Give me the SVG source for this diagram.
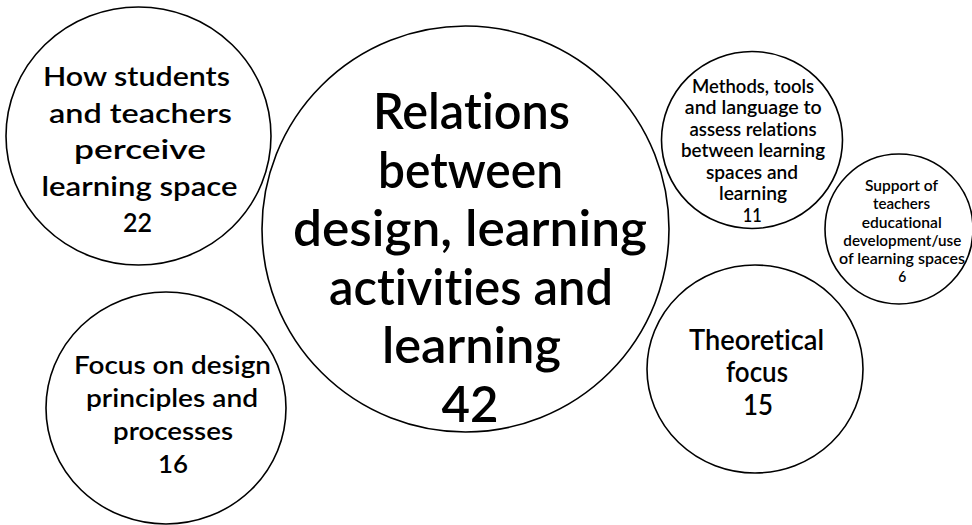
<svg xmlns="http://www.w3.org/2000/svg" width="972" height="525" viewBox="0 0 972 525">
<style>
.c{fill:#fff;stroke:#000;stroke-width:1.6}
text{font-family:Lato,"Noto Sans","DejaVu Sans",sans-serif;fill:#000;text-anchor:middle;font-weight:600;font-variant-ligatures:none}
</style>
<rect width="972" height="525" fill="#fff"/>
<g id="connectors"/>
<g id="n1">
<ellipse class="c" cx="138.5" cy="136" rx="132.5" ry="129"/>
<text font-size="26"><tspan x="136.5" y="86" textLength="187" lengthAdjust="spacingAndGlyphs">How students</tspan><tspan x="140.5" y="122.5" textLength="183" lengthAdjust="spacingAndGlyphs">and teachers</tspan><tspan x="140" y="159" textLength="132" lengthAdjust="spacingAndGlyphs">perceive</tspan><tspan x="139.5" y="195.5" textLength="196" lengthAdjust="spacingAndGlyphs">learning space</tspan><tspan x="137.5" y="232" textLength="29" lengthAdjust="spacingAndGlyphs">22</tspan></text>
</g>
<g id="n2">
<ellipse class="c" cx="465.5" cy="229" rx="203.5" ry="203"/>
<text font-size="49"><tspan x="471.5" y="129" textLength="197" lengthAdjust="spacingAndGlyphs">Relations</tspan><tspan x="470.5" y="187.5" textLength="185" lengthAdjust="spacingAndGlyphs">between</tspan><tspan x="470" y="246" textLength="354" lengthAdjust="spacingAndGlyphs">design, learning</tspan><tspan x="471" y="304.5" textLength="284" lengthAdjust="spacingAndGlyphs">activities and</tspan><tspan x="471.5" y="363" textLength="179" lengthAdjust="spacingAndGlyphs">learning</tspan><tspan x="470" y="422" textLength="57" lengthAdjust="spacingAndGlyphs">42</tspan></text>
</g>
<g id="n3">
<ellipse class="c" cx="166" cy="408" rx="120" ry="116"/>
<text font-size="25"><tspan x="172.5" y="374" textLength="197" lengthAdjust="spacingAndGlyphs">Focus on design</tspan><tspan x="172" y="407" textLength="172" lengthAdjust="spacingAndGlyphs">principles and</tspan><tspan x="173" y="440" textLength="120" lengthAdjust="spacingAndGlyphs">processes</tspan><tspan x="173" y="473" textLength="30" lengthAdjust="spacingAndGlyphs">16</tspan></text>
</g>
<g id="n4">
<ellipse class="c" cx="752" cy="140" rx="90.5" ry="88.5"/>
<text font-size="19"><tspan x="753" y="92.5" textLength="122" lengthAdjust="spacingAndGlyphs">Methods, tools</tspan><tspan x="753.3" y="114" textLength="137" lengthAdjust="spacingAndGlyphs">and language to</tspan><tspan x="753" y="135.5" textLength="127" lengthAdjust="spacingAndGlyphs">assess relations</tspan><tspan x="753" y="157" textLength="144" lengthAdjust="spacingAndGlyphs">between learning</tspan><tspan x="752" y="178.5" textLength="92" lengthAdjust="spacingAndGlyphs">spaces and</tspan><tspan x="753" y="200" textLength="68" lengthAdjust="spacingAndGlyphs">learning</tspan><tspan x="752.2" y="221.7" textLength="19" lengthAdjust="spacingAndGlyphs">11</tspan></text>
</g>
<g id="n5">
<ellipse class="c" cx="899" cy="229" rx="74" ry="75"/>
<text font-size="16"><tspan x="901.5" y="190.7" textLength="73" lengthAdjust="spacingAndGlyphs">Support of</tspan><tspan x="901.5" y="209" textLength="57" lengthAdjust="spacingAndGlyphs">teachers</tspan><tspan x="901.7" y="227.5" textLength="80" lengthAdjust="spacingAndGlyphs">educational</tspan><tspan x="902.3" y="246" textLength="118" lengthAdjust="spacingAndGlyphs">development/use</tspan><tspan x="902" y="264" textLength="126" lengthAdjust="spacingAndGlyphs">of learning spaces</tspan><tspan x="902.3" y="281.7" textLength="8" lengthAdjust="spacingAndGlyphs">6</tspan></text>
</g>
<g id="n6">
<ellipse class="c" cx="755" cy="369" rx="108" ry="104"/>
<text font-size="29"><tspan x="756.5" y="350" textLength="135" lengthAdjust="spacingAndGlyphs">Theoretical</tspan><tspan x="757" y="382" textLength="62" lengthAdjust="spacingAndGlyphs">focus</tspan><tspan x="758" y="415" textLength="30" lengthAdjust="spacingAndGlyphs">15</tspan></text>
</g>
</svg>
